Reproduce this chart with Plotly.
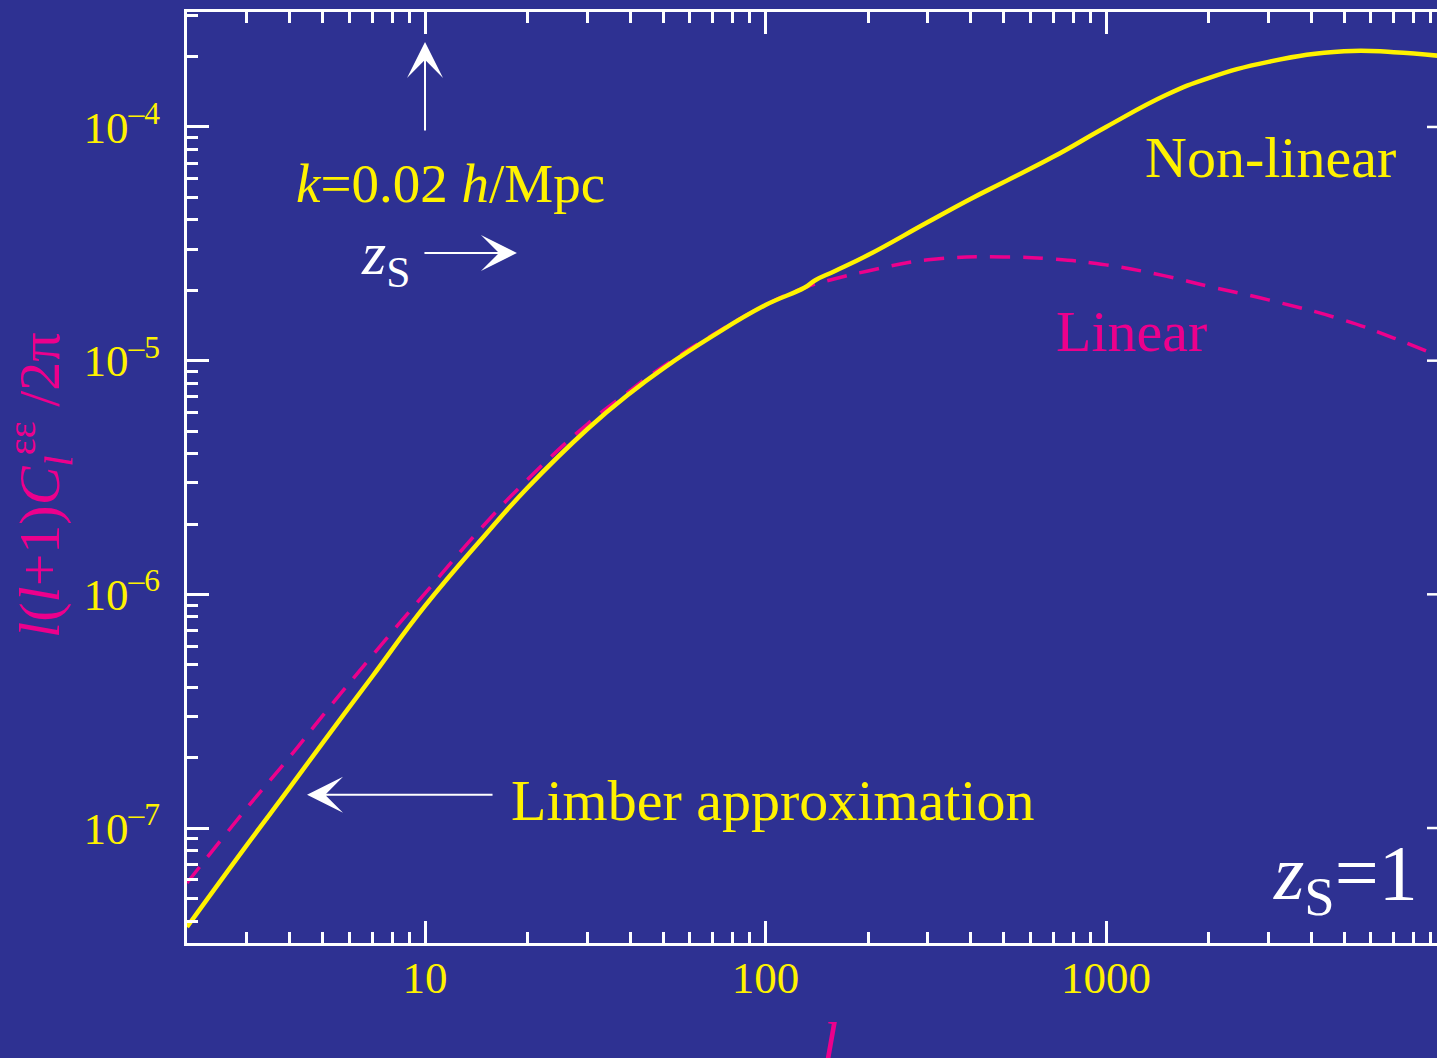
import plotly.graph_objects as go

# Multipole moments and angular power spectra l(l+1)C_l/2pi
ell = [2, 3, 4, 5, 7, 10, 15, 20, 30, 40, 50, 70, 100, 130, 140, 160,
       200, 300, 400, 500, 700, 1000, 1500, 2000, 3000, 5000, 7000, 10000]
nonlinear = [3.77e-8, 8.47e-8, 1.485e-7, 2.31e-7, 4.45e-7, 8.92e-7, 1.79e-6,
             2.86e-6, 5.10e-6, 7.26e-6, 9.25e-6, 1.276e-5, 1.73e-5, 2.05e-5,
             2.21e-5, 2.42e-5, 2.83e-5, 3.92e-5, 4.92e-5, 5.80e-5, 7.45e-5,
             1.00e-4, 1.37e-4, 1.62e-4, 1.90e-4, 2.11e-4, 2.09e-4, 2.00e-4]

ell_lin = [2, 3, 4, 5, 7, 10, 15, 20, 30, 40, 50, 70, 100, 130, 160,
           200, 300, 500, 700, 1000, 1500, 2000, 3000, 5000, 7000, 10000]
linear = [5.82e-8, 1.22e-7, 2.01e-7, 3.02e-7, 5.47e-7, 1.01e-6, 2.00e-6,
          3.10e-6, 5.36e-6, 7.45e-6, 9.45e-6, 1.29e-5, 1.73e-5, 2.05e-5,
          2.24e-5, 2.42e-5, 2.70e-5, 2.78e-5, 2.72e-5, 2.57e-5, 2.30e-5,
          2.08e-5, 1.82e-5, 1.49e-5, 1.25e-5, 1.01e-5]

x_major = [10, 100, 1000, 10000]
x_major_text = ["10", "100", "1000", "10000"]
y_major = [1e-7, 1e-6, 1e-5, 1e-4]
y_major_text = ["10<sup>–7</sup>", "10<sup>–6</sup>", "10<sup>–5</sup>", "10<sup>–4</sup>"]

BG = "#2E3192"
YELLOW = "#FFF200"
MAGENTA = "#EC008C"
WHITE = "#FFFFFF"
FONT = "Liberation Serif"

x_minor = [m * 10 ** d for d in range(0, 4) for m in range(2, 10)]
y_minor = [m * 10 ** d for d in range(-8, -3) for m in range(2, 10)]

fig = go.Figure()
fig.add_trace(go.Scatter(x=ell_lin, y=linear, mode="lines",
                         line=dict(color=MAGENTA, width=3.5, dash="20px,13px",
                                   shape="spline", smoothing=1.3),
                         hoverinfo="skip", showlegend=False))
fig.add_trace(go.Scatter(x=ell, y=nonlinear, mode="lines",
                         line=dict(color=YELLOW, width=4.5, shape="spline", smoothing=1.3),
                         hoverinfo="skip", showlegend=False))

axis_common = dict(showgrid=False, zeroline=False, showline=True, linecolor=WHITE,
                   linewidth=3, ticks="inside", ticklen=22, tickwidth=2.5,
                   tickcolor=WHITE, tickfont=dict(family=FONT, size=45, color=YELLOW))

fig.update_xaxes(type="log", range=[0.301, 3.972], tickmode="array",
                 tickvals=x_major, ticktext=x_major_text, mirror="allticks",
                 ticklabelstandoff=-7,
                 minor=dict(tickmode="array", tickvals=x_minor, ticks="inside",
                            ticklen=11, tickwidth=2.5, tickcolor=WHITE),
                 **axis_common)
fig.update_yaxes(type="log", range=[-7.492, -3.508], tickmode="array",
                 tickvals=y_major, ticktext=y_major_text, mirror=False,
                 ticklabelstandoff=15,
                 minor=dict(tickmode="array", tickvals=y_minor, ticks="inside",
                            ticklen=11, tickwidth=2.5, tickcolor=WHITE),
                 **axis_common)

# Right-hand frame ticks at the decades (the frame itself lies past the edge)
for yv in y_major:
    fig.add_shape(type="line", xref="paper", yref="y", x0=0.992, x1=1.0,
                  y0=yv, y1=yv, line=dict(color=WHITE, width=2.5))

arrow_style = dict(text="", showarrow=True, arrowhead=3, arrowsize=3.0,
                   arrowwidth=2, arrowcolor=WHITE, xref="x", yref="y")


def label(x, y, text, size, color, xanchor="center", yanchor="middle", **kw):
    return dict(x=x, y=y, xref="paper", yref="paper", showarrow=False, text=text,
                xanchor=xanchor, yanchor=yanchor,
                font=dict(family=FONT, size=size, color=color), **kw)


annotations = [
    # k = 0.02 h/Mpc marker arrow
    dict(x=1.0, y=-3.636, ax=0, ay=90, **arrow_style),
    # z_S direction arrow
    dict(x=1.270, y=-4.539, ax=-94, ay=0, **arrow_style),
    # Limber approximation arrow
    dict(x=0.6535, y=-6.858, ax=187, ay=0, **arrow_style),
    label(0.2104, 0.8163, "<i>k</i>=0.02 <i>h</i>/Mpc", 55, YELLOW),
    label(0.18, 0.7358, "<i>z</i><sub>S</sub>", 62, WHITE, xanchor="right"),
    label(0.8664, 0.8432, "Non-linear", 58, YELLOW),
    label(0.7552, 0.6563, "Linear", 58, MAGENTA),
    label(0.468, 0.153, "Limber approximation", 58, YELLOW),
    label(0.9864, 0.0698, "<i>z</i><sub>S</sub>=1", 78, WHITE, xanchor="right"),
    # axis titles
    label(0.5145, -0.07, "<i>l</i>", 58, MAGENTA, yanchor="top"),
    label(-0.1176, 0.492,
          "<i>l</i>(<i>l</i>+1)<i>C</i><sub><i>l</i></sub><sup>εε</sup> /2π",
          58, MAGENTA, textangle=-90),
]

fig.update_layout(width=1437, height=1058, paper_bgcolor=BG, plot_bgcolor=BG,
                  margin=dict(l=187, r=0, t=12, b=115), annotations=annotations,
                  showlegend=False)

fig.write_html("out.html")
